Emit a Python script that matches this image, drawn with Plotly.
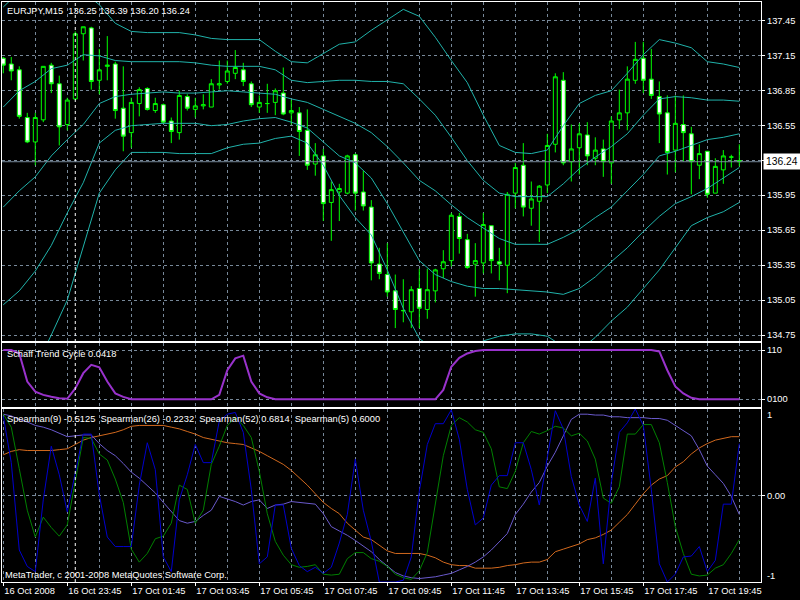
import plotly.graph_objects as go

# ---------------- data ----------------
bars = list(range(93))
opens = [137.13,137.08,137.03,136.62,136.41,136.60,137.07,136.91,136.56,136.78,
         137.34,137.39,136.94,137.06,137.08,136.70,136.49,136.74,136.87,136.68,
         136.73,136.59,136.49,136.80,136.69,136.72,136.71,136.90,136.93,137.00,
         137.03,136.91,136.71,136.74,136.75,136.83,136.66,136.66,136.51,136.22,
         136.29,135.89,135.98,135.97,136.30,135.98,135.85,135.36,135.27,135.13,
         134.96,134.95,135.15,134.97,135.13,135.32,135.39,135.77,135.57,135.36,
         135.37,135.69,135.38,135.35,135.97,136.21,135.84,135.90,136.04,136.39,
         136.94,136.24,136.36,136.47,136.27,136.35,136.23,136.60,136.66,136.94,
         137.13,136.95,136.80,136.66,136.34,136.56,136.48,136.21,136.33,135.97,
         136.17,136.28,136.25]
highs = [137.14,137.14,137.06,136.66,136.66,137.06,137.09,136.98,136.79,137.36,
         137.40,137.40,137.21,137.32,137.10,137.06,136.79,136.88,136.88,136.79,
         136.74,136.62,136.85,136.82,136.79,136.82,136.95,137.11,137.11,137.20,
         137.09,136.93,136.81,136.91,136.87,137.05,136.77,136.71,136.69,136.40,
         136.35,136.07,136.05,136.30,136.31,136.16,135.91,135.50,135.54,135.27,
         135.23,135.17,135.32,135.32,135.32,135.48,135.80,135.80,135.62,135.54,
         135.80,135.69,135.50,135.98,136.23,136.40,136.07,136.04,136.48,137.00,
         137.01,136.56,136.57,136.58,136.45,136.43,136.63,136.86,137.06,137.27,
         137.27,137.21,136.93,136.81,136.81,136.81,136.54,136.39,136.33,136.27,
         136.34,136.30,136.39]
lows = [137.00,136.94,136.61,136.40,136.21,136.58,136.83,136.38,136.51,136.77,
        137.11,136.86,136.82,136.94,136.61,136.33,136.36,136.63,136.68,136.66,
        136.57,136.40,136.43,136.68,136.62,136.69,136.71,136.86,136.91,136.95,
        136.89,136.71,136.66,136.66,136.64,136.64,136.56,136.29,136.17,136.12,
        135.73,135.56,135.73,135.96,135.82,135.82,135.22,135.23,135.08,134.81,
        134.86,134.81,134.81,134.89,135.03,135.24,135.34,135.45,135.32,135.08,
        135.28,135.28,135.22,135.11,135.84,135.77,135.69,135.55,135.97,136.32,
        136.21,136.07,136.13,136.21,136.21,136.11,136.05,136.52,136.51,136.91,
        136.83,136.78,136.40,136.13,136.15,136.24,135.96,136.09,135.93,135.97,
        136.05,136.19,136.20]
closes = [137.07,137.02,136.63,136.41,136.62,137.06,136.91,136.54,136.77,137.34,
          137.40,136.93,137.03,137.07,136.68,136.46,136.75,136.86,136.69,136.74,
          136.58,136.50,136.81,136.70,136.72,136.73,136.91,136.91,137.02,137.05,
          136.93,136.73,136.75,136.74,136.85,136.65,136.68,136.50,136.21,136.30,
          135.88,136.00,136.01,136.29,135.97,135.86,135.37,135.28,135.12,134.97,
          134.96,135.14,134.98,135.14,135.31,135.38,135.78,135.58,135.33,135.39,
          135.70,135.39,135.36,135.96,136.19,135.85,135.92,136.03,136.38,136.97,
          136.23,136.35,136.48,136.29,136.34,136.24,136.59,136.66,136.95,137.12,
          136.94,136.81,136.65,136.32,136.57,136.49,136.24,136.31,135.96,136.20,
          136.29,136.28,136.24]

band_bars = list(range(0, 93, 2))
bb_upper2 = [137.57,137.70,137.76,137.80,137.78,137.70,137.59,137.43,137.36,137.35,
             137.35,137.35,137.33,137.30,137.29,137.29,137.29,137.19,137.10,137.09,
             137.17,137.25,137.27,137.37,137.46,137.55,137.49,137.31,137.11,136.92,
             136.64,136.38,136.32,136.31,136.34,136.55,136.74,136.81,136.85,137.00,
             137.16,137.29,137.26,137.22,137.10,137.08,137.05]
bb_upper1 = [136.71,136.85,136.93,137.04,137.07,137.16,137.15,137.11,137.10,137.10,
             137.10,137.10,137.09,137.07,137.06,137.06,137.06,137.03,136.94,136.92,
             136.93,136.94,136.94,136.93,136.93,136.91,136.78,136.64,136.45,136.25,
             136.08,135.97,135.94,135.94,135.94,136.05,136.18,136.28,136.37,136.48,
             136.64,136.78,136.80,136.79,136.77,136.77,136.76]
bb_mid = [135.85,135.99,136.11,136.29,136.43,136.56,136.74,136.80,136.82,136.83,
          136.84,136.83,136.83,136.84,136.85,136.84,136.83,136.82,136.78,136.75,
          136.69,136.63,136.57,136.49,136.37,136.23,136.08,135.99,135.87,135.76,
          135.67,135.58,135.53,135.53,135.53,135.59,135.66,135.76,135.85,135.99,
          136.13,136.29,136.33,136.38,136.43,136.45,136.48]
bb_lower1 = [135.01,135.13,135.30,135.52,135.80,136.06,136.40,136.51,136.55,136.56,
             136.57,136.57,136.57,136.55,136.56,136.59,136.61,136.62,136.58,136.53,
             136.41,136.29,136.23,136.10,135.88,135.63,135.39,135.27,135.21,135.17,
             135.15,135.15,135.14,135.13,135.12,135.10,135.15,135.25,135.38,135.50,
             135.64,135.77,135.88,135.94,136.01,136.10,136.19]
bb_lower2 = [134.15,134.32,134.47,134.75,135.05,135.50,135.97,136.17,136.32,136.32,
             136.32,136.31,136.31,136.31,136.36,136.39,136.40,136.44,136.46,136.40,
             136.21,135.95,135.76,135.61,135.31,134.98,134.72,134.62,134.60,134.62,
             134.70,134.74,134.76,134.76,134.74,134.65,134.62,134.73,134.87,134.99,
             135.15,135.31,135.50,135.69,135.76,135.81,135.89]

stc = [100,100,93,36,15.5,9,5,2,1,22,
       53,70,65,36,12,5,0,0,0,0,
       0,0,0,0,0,0,0,9,59,83,
       88.5,36,12,4,0,0,0,0,0,0,
       0,0,0,0,0,0,0,0,0,0,
       0,0,0,0,0,19,66,84,93,98,
       100,100,100,100,100,100,100,100,100,100,
       100,100,100,100,100,100,100,100,100,100,
       100,100,97,59,26,12,3,0,0,0,
       0,0,0.0418]

sp9 = [0.94,0.79,0.31,-0.17,-0.48,-0.25,-0.37,-0.47,-0.34,0.19,
       0.67,0.66,0.48,0.41,0.19,-0.08,-0.62,-0.77,-0.67,-0.50,
       -0.47,-0.32,0.12,0.07,-0.32,-0.17,0.36,0.57,0.81,0.90,
       0.81,0.67,0.28,-0.21,-0.53,-0.69,-0.80,-0.83,-0.82,-0.80,
       -0.91,-0.92,-0.91,-0.73,-0.66,-0.66,-0.73,-0.76,-0.82,-0.91,
       -0.95,-0.97,-0.87,-0.66,-0.10,0.46,0.81,0.90,0.85,0.76,
       0.73,0.54,0.10,0.08,0.28,0.61,0.74,0.71,0.75,0.80,
       0.78,0.69,0.72,0.63,0.42,-0.03,-0.09,0.10,0.71,0.71,
       0.82,0.82,0.61,0.15,-0.36,-0.67,-0.91,-0.93,-0.92,-0.84,
       -0.80,-0.67,-0.51]
sp26 = [0.94,0.92,0.88,0.85,0.81,0.79,0.76,0.72,0.68,0.69,
        0.70,0.70,0.60,0.52,0.46,0.37,0.27,0.20,0.11,0.03,
        -0.08,-0.19,-0.29,-0.32,-0.30,-0.23,-0.17,-0.01,-0.04,-0.07,
        -0.11,-0.07,-0.05,-0.15,-0.11,-0.10,-0.07,-0.08,-0.09,-0.10,
        -0.21,-0.36,-0.41,-0.46,-0.52,-0.59,-0.65,-0.74,-0.82,-0.89,
        -0.93,-0.95,-0.96,-0.95,-0.94,-0.92,-0.90,-0.86,-0.82,-0.77,
        -0.71,-0.63,-0.54,-0.44,-0.22,-0.10,0.04,0.15,0.34,0.50,
        0.69,0.88,0.94,0.94,0.93,0.93,0.91,0.91,0.90,0.90,
        0.90,0.89,0.89,0.87,0.81,0.74,0.69,0.53,0.34,0.24,
        0.14,-0.01,-0.22]
sp52 = [0.47,0.51,0.53,0.52,0.52,0.52,0.52,0.53,0.54,0.59,
        0.64,0.67,0.69,0.71,0.73,0.76,0.80,0.81,0.81,0.81,
        0.81,0.79,0.77,0.74,0.71,0.67,0.65,0.63,0.61,0.60,
        0.59,0.55,0.51,0.46,0.41,0.36,0.29,0.21,0.12,0.02,
        -0.08,-0.15,-0.21,-0.32,-0.40,-0.48,-0.51,-0.58,-0.64,-0.67,
        -0.67,-0.67,-0.67,-0.69,-0.72,-0.77,-0.80,-0.81,-0.81,-0.84,
        -0.84,-0.84,-0.83,-0.81,-0.80,-0.78,-0.77,-0.77,-0.74,-0.65,
        -0.62,-0.59,-0.56,-0.51,-0.49,-0.45,-0.40,-0.31,-0.22,-0.10,
        0.02,0.12,0.19,0.23,0.33,0.39,0.48,0.55,0.60,0.64,
        0.66,0.68,0.68]
sp5 = [0.92,0.38,-0.63,-0.82,-0.88,-0.05,0.57,0.24,-0.19,0.26,
       0.71,0.71,0.01,-0.48,-0.59,-0.59,-0.59,0.12,0.61,0.30,
       -0.71,-0.88,-0.05,0.24,0.59,0.38,0.38,0.86,0.94,0.96,
       0.73,0.07,-0.79,-0.71,-0.11,-0.11,-0.61,-0.81,-0.88,-0.83,
       -0.90,-0.83,-0.55,-0.22,0.42,-0.17,-0.53,-1.00,-1.00,-1.00,
       -0.98,-0.71,0.05,0.59,0.83,0.83,0.99,0.65,0.07,-0.34,
       -0.26,0.12,0.23,0.23,0.61,0.61,0.30,-0.11,0.44,0.98,
       0.77,0.22,-0.11,-0.30,0.20,-0.79,0.15,0.73,0.84,1.00,
       0.81,0.07,-0.79,-1.00,-0.91,-0.71,-0.70,-0.59,-0.88,-0.75,
       -0.10,-0.10,0.60]

x_tick_bars = [0, 8, 16, 24, 32, 40, 48, 56, 64, 72, 80, 88]
x_tick_text = ["16 Oct 2008", "16 Oct 23:45", "17 Oct 01:45", "17 Oct 03:45",
               "17 Oct 05:45", "17 Oct 07:45", "17 Oct 09:45", "17 Oct 11:45",
               "17 Oct 13:45", "17 Oct 15:45", "17 Oct 17:45", "17 Oct 19:45"]
grid_bars = list(range(4, 93, 4))
minor_bars = [b for b in grid_bars if b not in x_tick_bars]
price_ticks = [137.45, 137.15, 136.85, 136.55, 136.25, 135.95, 135.65, 135.35, 135.05, 134.75]
stc_levels = [100, 0]
stc_level_text = ["110", "0100"]
sp_levels = [0]
separator_bar = 9
symbol_text = "EURJPY,M15\u00a0\u00a0136.25 136.39 136.20 136.24"
stc_text = "Schaff Trend Cycle 0.0418"
sp_text = ("Spearman(9) -0.5125\u00a0\u00a0Spearman(26) -0.2232\u00a0\u00a0"
           "Spearman(52) 0.6814\u00a0\u00a0Spearman(5) 0.6000")
copyright_text = "MetaTrader, c 2001-2008 MetaQuotes Software Corp."

# ---------------- styling ----------------
FONT = "Liberation Sans, Arial"
FS = 9.3
GRID = "#778899"
BAND = "#20B2AA"
W, H = 800, 600
ML, MR, MT, MB = 2, 39, 2, 18
PW, PH = W - ML - MR, H - MT - MB

def py(pix):  # pixel row -> paper y
    return (H - MB - pix) / PH

def px(pix):
    return (pix - ML) / PW

fig = go.Figure()
fig.add_trace(go.Candlestick(
    x=bars, open=opens, high=highs, low=lows, close=closes,
    increasing=dict(line=dict(color="#00FF00", width=1), fillcolor="#000000"),
    decreasing=dict(line=dict(color="#00FF00", width=1), fillcolor="#FFFFFF"),
    whiskerwidth=0, xaxis="x", yaxis="y", hoverinfo="skip", showlegend=False))
for band in (bb_upper2, bb_upper1, bb_mid, bb_lower1, bb_lower2):
    fig.add_trace(go.Scatter(x=band_bars, y=band, mode="lines",
                             line=dict(color=BAND, width=1),
                             xaxis="x", yaxis="y", hoverinfo="skip", showlegend=False))

fig.add_trace(go.Scatter(x=bars, y=stc, mode="lines", line=dict(color="#9932CC", width=2),
                         xaxis="x2", yaxis="y2", hoverinfo="skip", showlegend=False))

for series, color in ((sp52, "#D2691E"), (sp26, "#6A5ACD"), (sp9, "#008000"), (sp5, "#0000CD")):
    fig.add_trace(go.Scatter(x=bars, y=series, mode="lines", line=dict(color=color, width=1),
                             xaxis="x3", yaxis="y3", hoverinfo="skip", showlegend=False))

xr = [-0.16, 94.71]
common_x = dict(range=xr, showline=True, mirror=True, linecolor="white", linewidth=1,
                zeroline=False, showgrid=True, gridcolor=GRID, griddash="3px,3px", gridwidth=1,
                fixedrange=True, automargin=False)
common_y = dict(side="right", showline=True, mirror=True, linecolor="white", linewidth=1,
                zeroline=False, ticks="outside", ticklen=3, tickcolor="white",
                showticklabels=False, fixedrange=True, automargin=False,
                showgrid=True, gridcolor=GRID, griddash="3px,3px")

fig.update_layout(
    width=W, height=H, margin=dict(l=ML, r=MR, t=MT, b=MB, autoexpand=False),
    paper_bgcolor="black", plot_bgcolor="black", showlegend=False,
    font=dict(family=FONT, size=FS, color="white"),
    xaxis=dict(**common_x, domain=[0, 1], anchor="y", tickvals=grid_bars, showticklabels=False,
               ticks="", rangeslider=dict(visible=False)),
    yaxis=dict(**common_y, domain=[py(341), py(2)], anchor="x", range=[134.699, 137.613],
               tickvals=price_ticks),
    xaxis2=dict(**common_x, domain=[0, 1], anchor="y2", matches="x", tickvals=grid_bars,
                showticklabels=False, ticks=""),
    yaxis2=dict(**common_y, domain=[py(407), py(343)], anchor="x2", range=[-15.6, 114.2],
                tickvals=stc_levels),
    xaxis3=dict(**common_x, domain=[0, 1], anchor="y3", matches="x", tickvals=x_tick_bars,
                ticktext=x_tick_text, ticks="outside", ticklen=3, tickcolor="white",
                ticklabelposition="outside right", tickangle=0,
                tickfont=dict(color="white", size=FS, family=FONT),
                minor=dict(tickvals=minor_bars, showgrid=True, gridcolor=GRID,
                           griddash="3px,3px", ticks="")),
    yaxis3=dict(**common_y, domain=[py(582), py(409)], anchor="x3", range=[-1, 1],
                tickvals=sp_levels),
)

# period separator and bid line
fig.add_shape(type="line", xref="x", yref="paper", x0=separator_bar, x1=separator_bar, y0=0, y1=1,
              line=dict(color="white", width=1, dash="3px,3px"), layer="above")
fig.add_shape(type="line", xref="x domain", yref="y", x0=0, x1=1, y0=closes[-1], y1=closes[-1],
              line=dict(color=GRID, width=1), layer="above")

def label(text, x, y, yref="paper", **kw):
    fig.add_annotation(text=text, x=x, y=y, xref="paper", yref=yref, showarrow=False,
                       xanchor="left", yanchor="middle", borderpad=0,
                       font=dict(color="white", size=FS, family=FONT), **kw)

label(symbol_text, px(6), py(11))
label(stc_text, px(6), py(354))
label(sp_text, px(6), py(419))
label(copyright_text, px(4), py(575))

# right-hand scale texts
for v in price_ticks:
    if abs(v - closes[-1]) > 0.05:
        label(f"{v:.2f}", px(766), v, yref="y")
for v, t in zip(stc_levels, stc_level_text):
    label(t, px(766), v, yref="y2")
label("1", px(766), py(415))
label("0.00", px(766), 0, yref="y3")
label("-1", px(766), py(576))

fig.add_annotation(text=f"{closes[-1]:.2f}", x=px(763), y=closes[-1], xref="paper", yref="y",
                   showarrow=False, xanchor="left", yanchor="middle", bgcolor="white",
                   font=dict(color="black", size=FS + 1, family=FONT), borderpad=2)

fig.write_html("out.html", config={"displayModeBar": False},
               post_script="document.body.style.margin='0px';document.body.style.overflow='hidden';")
